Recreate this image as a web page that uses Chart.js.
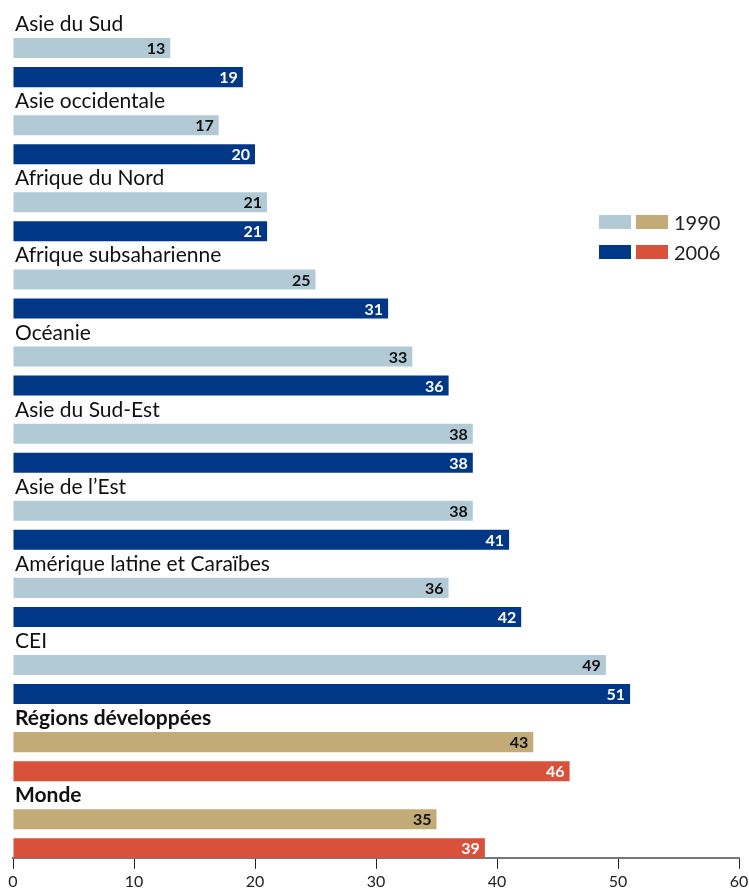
<!DOCTYPE html>
<html>
<head>
<meta charset="utf-8">
<script src="https://cdn.jsdelivr.net/npm/chart.js@4"></script>
<style>
  html, body { margin: 0; padding: 0; background: #fff; }
  #wrap { position: relative; width: 749px; height: 891px; }
  #legend { position: absolute; left: 599px; top: 210px; font-family: Lato, sans-serif; font-size: 20px; color: #222; }
  .row { display: flex; align-items: center; height: 24px; margin-bottom: 6px; }
  .sw { width: 32px; height: 14px; margin-right: 5px; }
  .row span { margin-left: 1px; }
</style>
</head>
<body>
<div id="wrap">
  <canvas id="chart" width="749" height="891"></canvas>
  <div id="legend">
    <div class="row"><div class="sw" style="background:#b2cad6"></div><div class="sw" style="background:#c2ab76"></div><span>1990</span></div>
    <div class="row"><div class="sw" style="background:#003787"></div><div class="sw" style="background:#d9513a"></div><span>2006</span></div>
  </div>
</div>
<script>
// === DONNÉES ===
const regions = ['Asie du Sud', 'Asie occidentale', 'Afrique du Nord', 'Afrique subsaharienne', 'Océanie',
  'Asie du Sud-Est', 'Asie de l\u2019Est', 'Amérique latine et Caraïbes', 'CEI', 'Régions développées', 'Monde'];
const values1990 = [13, 17, 21, 25, 33, 38, 38, 36, 49, 43, 35];
const values2006 = [19, 20, 21, 31, 36, 38, 41, 42, 51, 46, 39];
const xTicks = [0, 10, 20, 30, 40, 50, 60];
const boldRegions = ['Régions développées', 'Monde'];

// couleurs : régions en développement / agrégats
const col1990 = regions.map(r => boldRegions.includes(r) ? '#c2ab76' : '#b2cad6');
const col2006 = regions.map(r => boldRegions.includes(r) ? '#d9513a' : '#003787');
const txt1990 = regions.map(() => '#111');
const txt2006 = regions.map(() => '#fff');

// === PLUGIN : libellés des régions + valeurs ===
const labelsPlugin = {
  id: 'labels',
  afterDatasetsDraw(chart) {
    const ctx = chart.ctx;
    const left = chart.chartArea.left;
    const m1 = chart.getDatasetMeta(1);
    const m2 = chart.getDatasetMeta(2);
    ctx.save();
    // noms des régions au-dessus de chaque paire
    m1.data.forEach((bar, i) => {
      const bold = boldRegions.includes(regions[i]);
      ctx.font = (bold ? 'bold ' : '') + '21px Lato, sans-serif';
      ctx.fillStyle = '#111';
      ctx.textAlign = 'left';
      ctx.textBaseline = 'alphabetic';
      ctx.fillText(regions[i], left + 2, bar.y - bar.height / 2 - 7);
    });
    // valeurs à l'intérieur des barres
    ctx.font = 'bold 16px Lato, sans-serif';
    ctx.textAlign = 'right';
    ctx.textBaseline = 'middle';
    [[m1, values1990, txt1990], [m2, values2006, txt2006]].forEach(([meta, vals, cols]) => {
      meta.data.forEach((bar, i) => {
        ctx.fillStyle = cols[i];
        ctx.fillText(vals[i], bar.x - 5, bar.y + 1);
      });
    });
    ctx.restore();
  }
};

// === GRAPHIQUE ===
new Chart(document.getElementById('chart'), {
  type: 'bar',
  data: {
    labels: regions,
    datasets: [
      { label: '', data: regions.map(() => null) }, // place pour le libellé
      { label: '1990', data: values1990, backgroundColor: col1990 },
      { label: '2006', data: values2006, backgroundColor: col2006 }
    ]
  },
  options: {
    indexAxis: 'y',
    responsive: false,
    animation: false,
    categoryPercentage: 1.13,
    barPercentage: 0.69,
    layout: { padding: { left: 13, right: 10, top: 9.5, bottom: -3 } },
    plugins: { legend: { display: false }, tooltip: { enabled: false } },
    scales: {
      y: { display: false },
      x: {
        min: 0, max: 60,
        afterBuildTicks(scale) { scale.ticks = xTicks.map(v => ({ value: v })); },
        afterFit(scale) { scale.paddingLeft = 0; scale.paddingRight = 0; },
        grid: { drawOnChartArea: false, drawTicks: true, tickLength: 11, tickColor: '#222', tickWidth: 1 },
        border: { display: true, color: '#777', width: 2 },
        ticks: { color: '#222', font: { family: 'Lato, sans-serif', size: 16 }, padding: 3, maxRotation: 0 }
      }
    }
  },
  plugins: [labelsPlugin]
});
</script>
</body>
</html>
